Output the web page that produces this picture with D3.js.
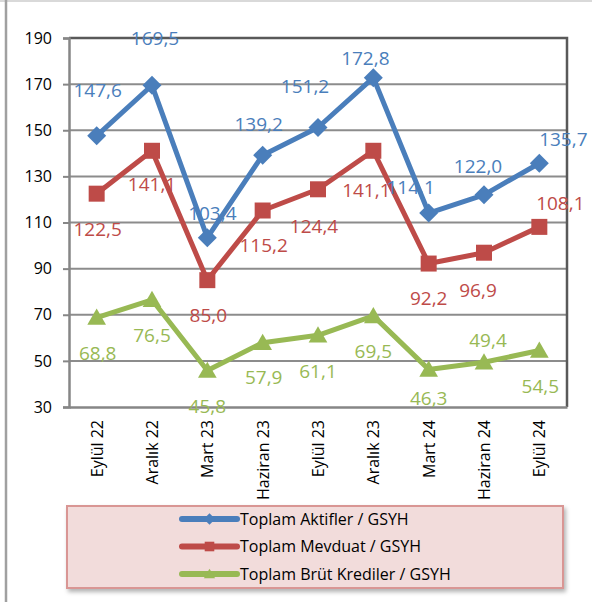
<!DOCTYPE html>
<html>
<head>
<meta charset="utf-8">
<script src="https://cdn.jsdelivr.net/npm/d3@7"></script>
<style>
  body { margin: 0; background: #fff; }
  svg { display: block; font-family: "Open Sans", sans-serif; }
</style>
</head>
<body>
<script>
(function () {
    //chart data
    var categories = ["Eylül 22", "Aralık 22", "Mart 23", "Haziran 23", "Eylül 23", "Aralık 23", "Mart 24", "Haziran 24", "Eylül 24"];
    var aktifler = [147.6, 169.5, 103.4, 139.2, 151.2, 172.8, 114.1, 122.0, 135.7];
    var mevduat = [122.5, 141.1, 85.0, 115.2, 124.4, 141.1, 92.2, 96.9, 108.1];
    var krediler = [68.8, 76.5, 45.8, 57.9, 61.1, 69.5, 46.3, 49.4, 54.5];
    var seriesNames = ["Toplam Aktifler / GSYH", "Toplam Mevduat / GSYH", "Toplam Brüt Krediler / GSYH"];
    var yTicks = [30, 50, 70, 90, 110, 130, 150, 170, 190];

    //label placement (offset of label centre from its point)
    var aktiflerLbl = [[1, -46], [3, -47], [5, -25], [-4, -31], [-13, -41], [-8, -20], [-18, -26], [-6, -29], [24, -24]];
    var mevduatLbl = [[1, 35], [0, 33], [1, 35], [1, 35], [-4, 37], [-7, 39], [0, 35], [-6, 37], [21, -24]];
    var kredilerLbl = [[1, 36], [0, 35], [0, 36], [1, 35], [0, 36], [0, 35], [0, 29], [4, -22], [1, 36]];

    var width = 592, height = 602;
    var plot = { left: 69, right: 567, top: 38, bottom: 407 };

    var svg = d3.select("body").append("svg")
        .attr("width", width)
        .attr("height", height);

    //outer frame
    svg.append("line").attr("x1", 0).attr("x2", width).attr("y1", 1).attr("y2", 1)
        .attr("stroke", "#d9d9d9").attr("stroke-width", 2);
    svg.append("line").attr("x1", 6).attr("x2", 6).attr("y1", 0).attr("y2", height)
        .attr("stroke", "#a0a0a0").attr("stroke-width", 2.5);

    var x = d3.scalePoint()
        .domain(categories)
        .range([plot.left, plot.right])
        .padding(0.5);
    var y = d3.scaleLinear()
        .domain([30, 190])
        .range([plot.bottom, plot.top]);

    //gridlines
    svg.append("g").selectAll("line")
        .data(yTicks.slice(1, -1))
        .enter().append("line")
        .attr("x1", plot.left).attr("x2", plot.right)
        .attr("y1", function (d) { return y(d); })
        .attr("y2", function (d) { return y(d); })
        .attr("stroke", "#8c8c8c").attr("stroke-width", 2);

    //plot border top/right
    svg.append("path")
        .attr("d", "M" + plot.left + "," + plot.top + "H" + plot.right + "V" + plot.bottom)
        .attr("fill", "none").attr("stroke", "#595959").attr("stroke-width", 2.5);

    //y axis
    var yAxis = svg.append("g")
        .attr("transform", "translate(" + plot.left + ",0)")
        .call(d3.axisLeft(y).tickValues(yTicks).tickSize(6).tickPadding(11).tickFormat(d3.format("d")));
    yAxis.select(".domain").attr("stroke", "#868686").attr("stroke-width", 2.5);
    yAxis.selectAll(".tick line").attr("stroke", "#868686").attr("stroke-width", 2);
    yAxis.selectAll("text").attr("font-size", 16).attr("fill", "#000").attr("font-family", "Open Sans");

    //x axis
    var xAxis = svg.append("g")
        .attr("transform", "translate(0," + plot.bottom + ")")
        .call(d3.axisBottom(x).tickSize(0).tickPadding(0));
    xAxis.select(".domain").attr("stroke", "#868686").attr("stroke-width", 2.5);
    xAxis.selectAll("text")
        .attr("font-size", 16).attr("fill", "#000").attr("font-family", "Open Sans")
        .attr("transform", "rotate(-90)")
        .attr("text-anchor", "end")
        .attr("x", -13).attr("y", 0).attr("dy", "0.35em");

    var series = [
        { name: seriesNames[0], values: aktifler, lbl: aktiflerLbl, color: "#4a7ebb", marker: "diamond" },
        { name: seriesNames[1], values: mevduat, lbl: mevduatLbl, color: "#be4b48", marker: "square" },
        { name: seriesNames[2], values: krediler, lbl: kredilerLbl, color: "#98b954", marker: "triangle" }
    ];

    function markerPath(type, s) {
        if (type === "diamond") return "M0," + (-s) + "L" + s + ",0L0," + s + "L" + (-s) + ",0Z";
        if (type === "square") return "M" + (-s) + "," + (-s) + "H" + s + "V" + s + "H" + (-s) + "Z";
        return "M0," + (-s * 1.05) + "L" + (s * 1.1) + "," + (s * 0.85) + "L" + (-s * 1.1) + "," + (s * 0.85) + "Z";
    }
    var markerSize = { diamond: 9.5, square: 8, triangle: 8.5 };

    var line = d3.line()
        .x(function (d, i) { return x(categories[i]); })
        .y(function (d) { return y(d); });

    series.forEach(function (s) {
        var g = svg.append("g");
        g.append("path")
            .datum(s.values)
            .attr("d", line)
            .attr("fill", "none")
            .attr("stroke", s.color)
            .attr("stroke-width", 5)
            .attr("stroke-linejoin", "round");
        g.selectAll(".mk")
            .data(s.values)
            .enter().append("path")
            .attr("transform", function (d, i) { return "translate(" + x(categories[i]) + "," + y(d) + ")"; })
            .attr("d", markerPath(s.marker, markerSize[s.marker]))
            .attr("fill", s.color);
    });

    //data labels
    series.forEach(function (s) {
        svg.append("g").selectAll("text")
            .data(s.values)
            .enter().append("text")
            .attr("x", function (d, i) { return x(categories[i]) + s.lbl[i][0]; })
            .attr("y", function (d, i) { return y(d) + s.lbl[i][1]; })
            .attr("text-anchor", "middle")
            .attr("dy", "0.36em")
            .attr("font-size", 19)
            .attr("fill", s.color)
            .text(function (d) { return d3.format(".1f")(d).replace(".", ","); });
    });

    //legend
    var defs = svg.append("defs");
    var filt = defs.append("filter").attr("id", "shadow").attr("x", "-5%").attr("y", "-10%").attr("width", "115%").attr("height", "130%");
    filt.append("feDropShadow").attr("dx", 2).attr("dy", 3).attr("stdDeviation", 2).attr("flood-color", "#000").attr("flood-opacity", 0.3);

    var legend = svg.append("g");
    legend.append("rect")
        .attr("x", 67).attr("y", 506).attr("width", 496).attr("height", 82)
        .attr("fill", "#f2dcdb").attr("stroke", "#d99694").attr("stroke-width", 2)
        .attr("filter", "url(#shadow)");

    var legendItems = legend.selectAll(".item")
        .data(series)
        .enter().append("g")
        .attr("transform", function (d, i) { return "translate(182," + (519 + i * 27.5) + ")"; });
    legendItems.append("line")
        .attr("x1", 0).attr("x2", 55)
        .attr("stroke", function (d) { return d.color; })
        .attr("stroke-width", 6).attr("stroke-linecap", "round");
    legendItems.append("path")
        .attr("transform", "translate(27.5,0)")
        .attr("d", function (d) { return markerPath(d.marker, markerSize[d.marker] * 0.6); })
        .attr("fill", function (d) { return d.color; });
    legendItems.append("text")
        .attr("x", 58).attr("dy", "0.35em")
        .attr("font-size", 16).attr("fill", "#000")
        .text(function (d) { return d.name; });
})();
</script>
</body>
</html>
